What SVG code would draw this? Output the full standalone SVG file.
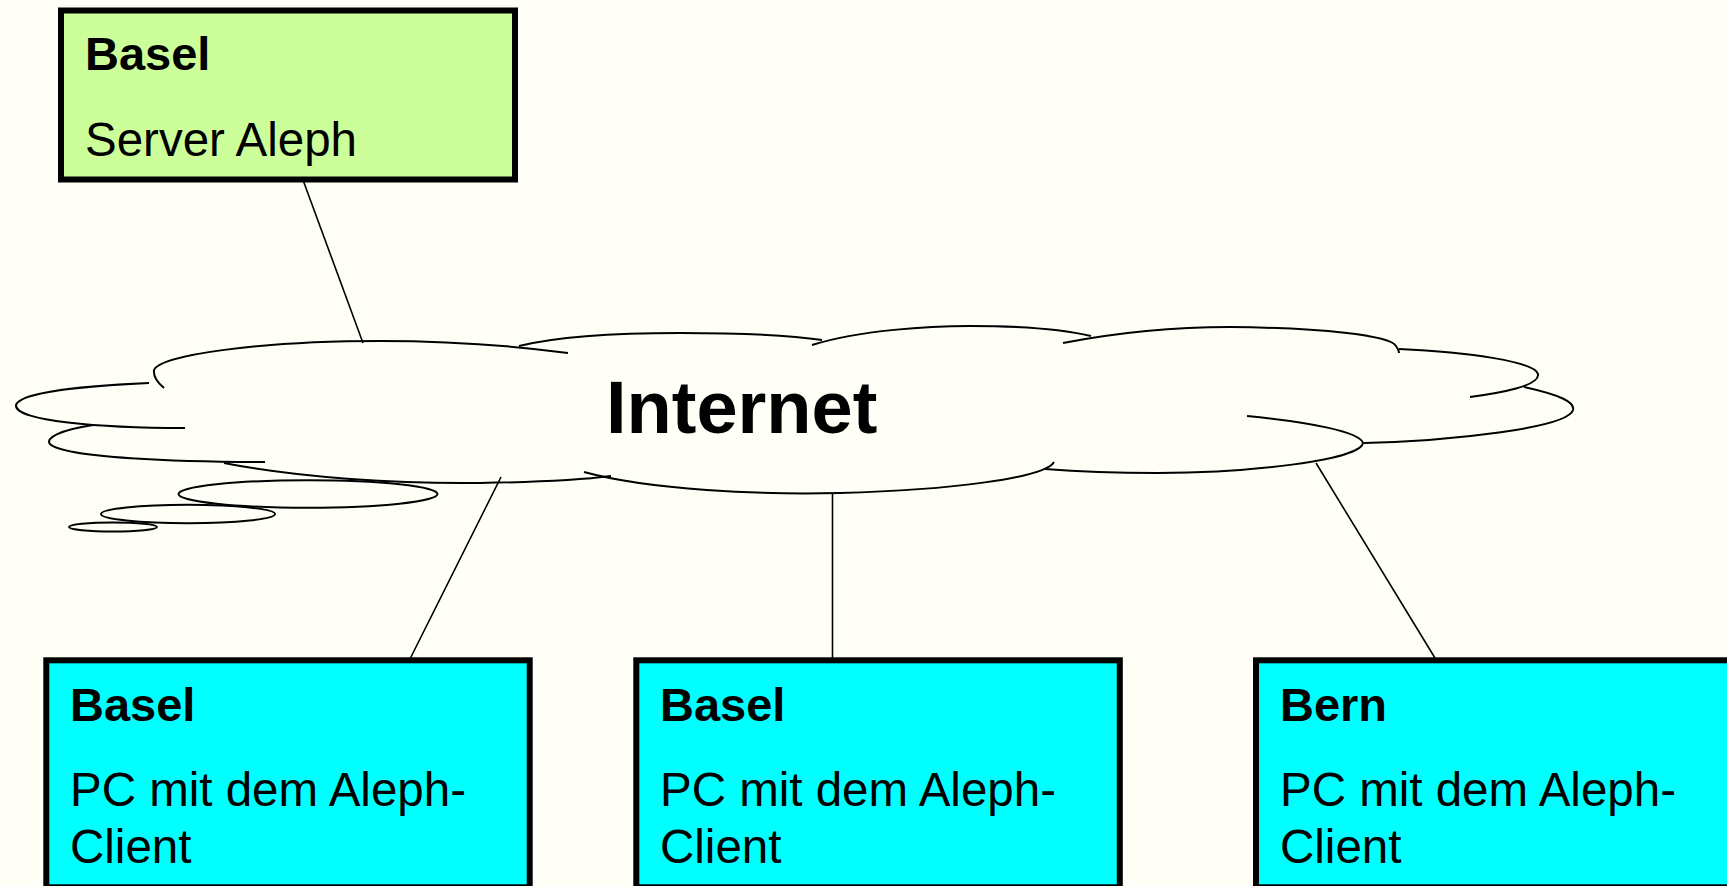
<svg xmlns="http://www.w3.org/2000/svg" width="1727" height="886" viewBox="0 0 1727 886">
<style>
.bg{fill:#FFFFF7}
.box{stroke:#000;stroke-width:6}
.green{fill:#CCFF99}
.cyan{fill:#00FFFF}
.t{font-family:"Liberation Sans",Arial,sans-serif;font-size:47.5px;fill:#000}
.b{font-weight:bold;font-size:47px}
.cloud path{fill:none;stroke:#000;stroke-width:2}
.conn line{stroke:#000;stroke-width:1.6}
</style>
<rect class="bg" x="0" y="0" width="1727" height="886"/>
<g id="cloud" class="cloud">
<path d="M568,353 C500,344 430,341 380,341 C260,341 160,355 154,370 C153,377 158,383 164,388"/>
<path d="M149,383 C80,386 20,393 16,405 C14,421 100,428 185,428"/>
<path d="M93,425 C60,430 45,438 50,444 C64,458 180,462 265,462"/>
<path d="M224,463 C300,478 400,484 480,483 C540,482 580,480 611,476"/>
<path d="M519,346 C560,336 620,333 680,333 C740,333 790,335 822,340"/>
<path d="M812,345 C860,330 930,326 970,326 C1020,326 1065,330 1091,336"/>
<path d="M1063,343 C1120,332 1180,327 1230,327 C1320,328 1390,335 1396,346 C1398,349 1399,351 1399,353"/>
<path d="M1399,349 C1470,352 1535,362 1538,374 C1540,386 1500,393 1470,397"/>
<path d="M1524,387 C1560,395 1575,402 1573,410 C1568,428 1450,441 1364,443"/>
<path d="M1247,416 C1310,422 1360,432 1363,443 C1360,460 1250,473 1158,473 C1110,473 1070,471 1045,469"/>
<path d="M584,472 C650,490 760,495 840,493 C950,490 1045,478 1054,462"/>
<ellipse cx="308" cy="494" rx="129.5" ry="13.8" style="fill:none;stroke:#000;stroke-width:2"/>
<ellipse cx="188" cy="514" rx="87" ry="9.2" style="fill:none;stroke:#000;stroke-width:2"/>
<ellipse cx="113" cy="527" rx="44" ry="4.5" style="fill:none;stroke:#000;stroke-width:2"/>
<text class="t" x="606" y="433" style="font-size:74px;font-weight:bold">Internet</text>
</g>
<g id="connectors" class="conn">
<line x1="303" y1="180" x2="363" y2="343"/>
<line x1="501" y1="477" x2="410.5" y2="658"/>
<line x1="832.5" y1="494" x2="832.5" y2="658"/>
<line x1="1316" y1="463" x2="1435" y2="658"/>
</g>
<g id="server-basel">
<rect class="box green" x="61" y="10.5" width="454" height="169"/>
<text class="t b" x="85" y="70">Basel</text>
<text class="t" x="85" y="156">Server Aleph</text>
</g>
<g id="client-basel-1">
<rect class="box cyan" x="46.3" y="660.3" width="483.4" height="227"/>
<text class="t b" x="70" y="721">Basel</text>
<text class="t" x="70" y="805.5">PC mit dem Aleph-</text>
<text class="t" x="70" y="862.5">Client</text>
</g>
<g id="client-basel-2">
<rect class="box cyan" x="636.3" y="660.3" width="483.5" height="227"/>
<text class="t b" x="660" y="721">Basel</text>
<text class="t" x="660" y="805.5">PC mit dem Aleph-</text>
<text class="t" x="660" y="862.5">Client</text>
</g>
<g id="client-bern">
<rect class="box cyan" x="1256" y="660.3" width="490" height="227"/>
<text class="t b" x="1280" y="721">Bern</text>
<text class="t" x="1280" y="805.5">PC mit dem Aleph-</text>
<text class="t" x="1280" y="862.5">Client</text>
</g>
</svg>
